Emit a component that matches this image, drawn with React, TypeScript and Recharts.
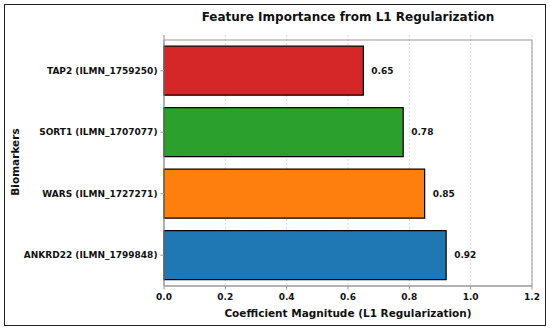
import { Bar, BarChart, CartesianGrid, Cell, LabelList, ReferenceArea, XAxis, YAxis } from "recharts";

const BIOMARKERS = [
  "TAP2 (ILMN_1759250)",
  "SORT1 (ILMN_1707077)",
  "WARS (ILMN_1727271)",
  "ANKRD22 (ILMN_1799848)",
];
const COEFFICIENTS = [0.65, 0.78, 0.85, 0.92];
const BAR_COLORS = ["#d62728", "#2ca02c", "#ff7f0e", "#1f77b4"];
const X_TICKS = [0, 0.2, 0.4, 0.6, 0.8, 1.0, 1.2];

const FONT = "'DejaVu Sans', sans-serif";

const data = BIOMARKERS.map((name, i) => ({ name, value: COEFFICIENTS[i] }));

const YTick = ({ x, y, payload }: any) => (
  <text x={x} y={y} dy="0.35em" textAnchor="end" fill="#111" fontSize={9} fontWeight="bold" fontFamily={FONT}>
    {payload.value}
  </text>
);

const XTick = ({ x, y, payload }: any) => (
  <text x={x} y={y} dy="0.75em" textAnchor="middle" fill="#111" fontSize={9} fontWeight="bold" fontFamily={FONT}>
    {Number(payload.value).toFixed(1)}
  </text>
);

const labelText = { fontSize: 10.5, fontWeight: "bold", color: "#111", lineHeight: "14px", whiteSpace: "nowrap" } as const;

export default function App() {
  return (
    <div style={{ position: "fixed", left: 0, top: 0, width: 550, height: 331, background: "#fff", fontFamily: FONT }}>
      <BarChart
        width={550}
        height={331}
        data={data}
        layout="vertical"
        margin={{ top: 35, right: 18, bottom: 15, left: 0 }}
        barCategoryGap="10%"
      >
        <CartesianGrid horizontal={false} stroke="#d9d9d9" strokeDasharray="2 2" />
        <XAxis
          type="number"
          domain={[0, 1.2]}
          ticks={X_TICKS}
          height={30}
          stroke="#999"
          tickSize={3.5}
          tickMargin={4}
          tick={<XTick />}
        />
        <YAxis
          type="category"
          dataKey="name"
          width={164}
          padding={{ top: 5, bottom: 0 }}
          stroke="#999"
          tickSize={3.5}
          tickMargin={3}
          tick={<YTick />}
        />
        <ReferenceArea x1={0} x2={1.2} fill="none" stroke="#999" strokeWidth={1} />
        <Bar dataKey="value" stroke="#000" strokeWidth={1.2} isAnimationActive={false}>
          {data.map((d, i) => (
            <Cell key={d.name} fill={BAR_COLORS[i]} />
          ))}
          <LabelList
            dataKey="value"
            position="right"
            offset={8}
            formatter={(v: number) => Number(v).toFixed(2)}
            style={{ fill: "#111", fontSize: 9, fontWeight: "bold", fontFamily: FONT }}
          />
        </Bar>
      </BarChart>
      <div style={{ position: "absolute", left: 164, width: 368, top: 9, textAlign: "center", ...labelText, fontSize: 12, lineHeight: "16px" }}>
        Feature Importance from L1 Regularization
      </div>
      <div style={{ position: "absolute", left: 164, width: 368, top: 306, textAlign: "center", ...labelText }}>
        Coefficient Magnitude (L1 Regularization)
      </div>
      <div
        style={{
          position: "absolute",
          left: 15,
          top: 162,
          transform: "translate(-50%, -50%) rotate(-90deg)",
          ...labelText,
        }}
      >
        Biomarkers
      </div>
      <div
        style={{
          position: "absolute",
          left: 4,
          top: 4,
          width: 542,
          height: 322,
          boxSizing: "border-box",
          border: "1.5px solid #222",
          pointerEvents: "none",
        }}
      />
    </div>
  );
}
